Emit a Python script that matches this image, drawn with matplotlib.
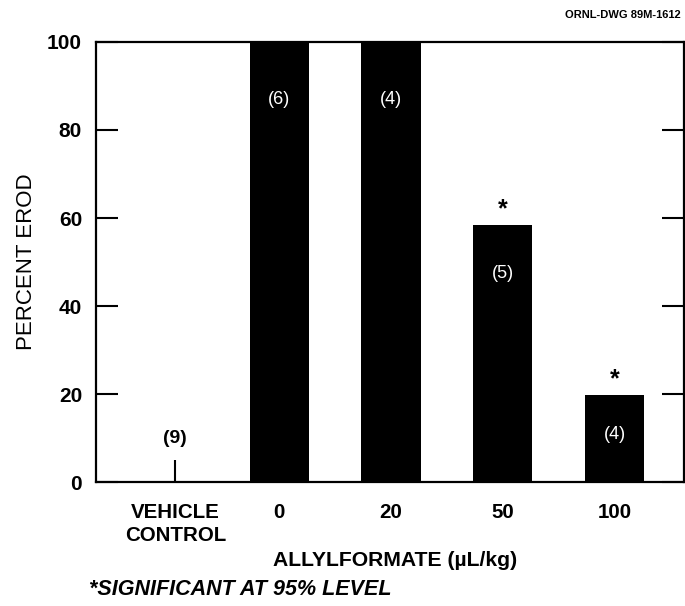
import matplotlib
matplotlib.use('Agg')
import matplotlib.pyplot as plt

plt.rcParams['font.family'] = ['Liberation Sans', 'DejaVu Sans']

## Datos
groups = ['VEHICLE\nCONTROL', '0', '20', '50', '100']
erod = [0, 100, 100, 58.3, 19.7]
n_labels = ['(9)', '(6)', '(4)', '(5)', '(4)']
n_label_y = [10, 87, 87, 47.5, 10.7]
significant = [False, False, False, True, True]
vehicle_err = 5
yticks = [0, 20, 40, 60, 80, 100]
#############################

fig = plt.figure(figsize=(6.85, 6.06), dpi=100)
ax = fig.add_axes([0.140, 0.2046, 0.8585, 0.7261])

pos = [0.07, 1, 2, 3, 4]
ax.bar(pos, erod, width=0.53, color='black', zorder=2)

# linea de error del control
ax.vlines(pos[0], 0, vehicle_err, color='black', lw=1.5, zorder=3)

for p, v, lab, ly, sig in zip(pos, erod, n_labels, n_label_y, significant):
    inside = v > ly
    ax.text(p, ly, lab, ha='center', va='center',
            color='white' if inside else 'black',
            fontsize=13 if inside else 14,
            fontweight='normal' if inside else 'bold')
    if sig:
        ax.text(p, v + 1.0, '*', ha='center', va='bottom', fontsize=18, fontweight='bold')

ax.set_xlim(-0.64, 4.62)
ax.set_ylim(0, 100)
ax.set_yticks(yticks)
ax.set_yticklabels([str(t) for t in yticks], fontsize=15, fontweight='bold')
ax.set_xticks(pos)
ax.set_xticklabels(groups, fontsize=14.8, fontweight='bold', linespacing=1.25)
ax.tick_params(axis='y', direction='in', length=16, width=1.5, right=True, pad=10)
ax.tick_params(axis='x', length=0, pad=15)
for s in ax.spines.values():
    s.set_linewidth(1.6)

ax.set_xlabel('ALLYLFORMATE (µL/kg)', fontsize=15.2, fontweight='bold', labelpad=5)
ax.xaxis.set_label_coords(0.508, -0.156)
ax.set_ylabel('PERCENT EROD', fontsize=16, labelpad=7)

fig.text(0.994, 0.976, 'ORNL-DWG 89M-1612', ha='right', va='center', fontsize=8, fontweight='bold')
fig.text(0.130, 0.028, '*SIGNIFICANT AT 95% LEVEL', ha='left', va='center', fontsize=15.5,
         style='italic', fontweight='bold')

fig.savefig('out.png', dpi=100)
